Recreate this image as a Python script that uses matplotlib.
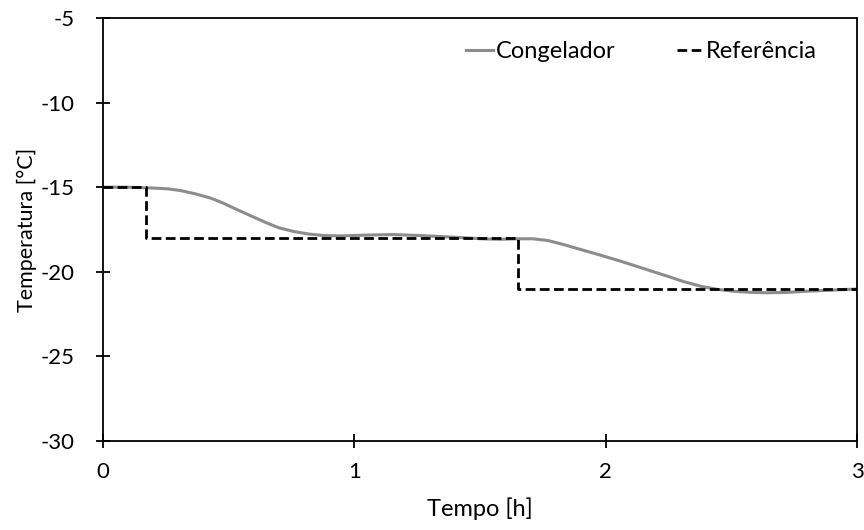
import matplotlib.pyplot as plt

# Congelador (freezer) temperature readings
tempo_cong = [0.0, 0.10, 0.20, 0.26, 0.31, 0.37, 0.43, 0.48, 0.53, 0.59, 0.65, 0.70, 0.76, 0.82,
              0.88, 0.95, 1.05, 1.15, 1.25, 1.35, 1.45, 1.52, 1.58, 1.65, 1.71, 1.77, 1.83, 1.90,
              1.98, 2.05, 2.12, 2.18, 2.25, 2.31, 2.38, 2.44, 2.50, 2.57, 2.64, 2.72, 2.80, 2.88,
              2.95, 3.0]
temp_cong = [-15.0, -15.0, -15.05, -15.1, -15.2, -15.4, -15.65, -15.95, -16.3, -16.7, -17.1, -17.4,
             -17.62, -17.77, -17.86, -17.88, -17.83, -17.8, -17.85, -17.92, -18.0, -18.06, -18.08, -18.05,
             -18.05, -18.15, -18.38, -18.68, -19.02, -19.33, -19.66, -19.95, -20.28, -20.58, -20.86,
             -21.03, -21.14, -21.21, -21.24, -21.22, -21.15, -21.1, -21.05, -21.02]

# Referência (setpoint) steps
tempo_ref = [0.0, 0.17, 0.17, 1.65, 1.65, 3.0]
temp_ref = [-15, -15, -18, -18, -21, -21]

xticks = [0, 1, 2, 3]
yticks = [-30, -25, -20, -15, -10, -5]

plt.rcParams['font.family'] = ['Lato', 'DejaVu Sans']
plt.rcParams['axes.unicode_minus'] = False

fig, ax = plt.subplots(figsize=(8.64, 5.30), dpi=100)
fig.subplots_adjust(left=0.119, right=0.992, top=0.966, bottom=0.168)

ax.plot(tempo_cong, temp_cong, color='#8c8c8c', lw=2.2, label='Congelador')
ax.plot(tempo_ref, temp_ref, color='black', lw=2.0, ls=(0, (3.5, 1.6)), label='Referência')

ax.set_xlim(0, 3)
ax.set_ylim(-30, -5)
ax.set_xticks(xticks)
ax.set_yticks(yticks)
ax.tick_params(direction='inout', length=10, width=1.3, labelsize=16)
ax.tick_params(axis='y', pad=15)
ax.tick_params(axis='x', pad=10)
for s in ax.spines.values():
    s.set_linewidth(1.3)

ax.set_xlabel('Tempo [h]', fontsize=17, labelpad=11)
ax.set_ylabel('Temperatura [°C]', fontsize=15.5, labelpad=3)

ax.legend(loc='upper right', ncol=2, frameon=False, fontsize=17, handlelength=1.15,
          handletextpad=0.1, columnspacing=2.6, bbox_to_anchor=(0.975, 0.995))

fig.savefig('out.png', dpi=100)
